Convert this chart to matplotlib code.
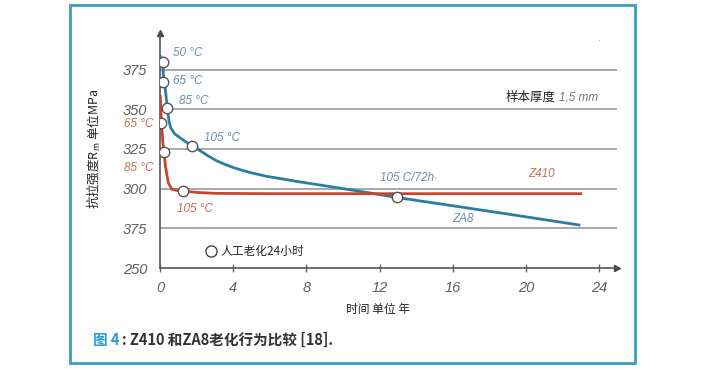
import matplotlib
matplotlib.use("Agg")
import matplotlib.pyplot as plt
from matplotlib.patches import Rectangle
from matplotlib.lines import Line2D

plt.rcParams['font.family'] = ['Liberation Sans', 'Noto Sans CJK SC', 'DejaVu Sans']

# ---- data ----
za8_x = [0.03, 0.15, 0.18, 0.25, 0.35, 0.4, 0.5, 0.6, 0.8, 1.1, 1.4, 1.8, 2.2, 2.6, 3.1, 3.5, 4.0,
         4.5, 4.9, 5.8, 7.6, 9.5, 11.3, 12.9, 16.0, 19.0, 22.9]
za8_y = [383, 379.6, 372, 367, 356, 350.5, 342, 338, 334.5, 332, 329.5, 327, 323.8, 320.8, 317.5, 315.5,
         313.3, 311.5, 310.2, 307.8, 304.3, 300.9, 297.6, 294.5, 289.2, 284.0, 277.1]
z410_x = [0.02, 0.04, 0.08, 0.15, 0.22, 0.3, 0.45, 0.65, 0.9, 1.22, 2.0, 3.1, 6.0, 10.0, 15.0, 23.0]
z410_y = [358, 350, 341.5, 330, 322.9, 314, 303.6, 299.6, 298.9, 298.5, 297.6, 297.0, 296.8, 296.8, 296.8, 296.8]

za8_mk_x = [0.15, 0.15, 0.4, 1.77, 12.93]
za8_mk_y = [379.6, 367, 350.5, 327, 294.5]
z410_mk_x = [0.05, 0.24, 1.24]
z410_mk_y = [341.4, 322.9, 298.7]

x_ticks = [0, 4, 8, 12, 16, 20, 24]
y_ticks = [250, 275, 300, 325, 350, 375]
y_tick_labels = ["250", "375", "300", "325", "350", "375"]

W, H = 709, 369
fig = plt.figure(figsize=(W / 100, H / 100), dpi=100)

def fx(px):
    return px / W

def fy(py):
    return 1 - py / H

# outer teal frame
fig.patches.append(Rectangle((fx(70), fy(363)), fx(635) - fx(70), fy(5) - fy(363),
                             transform=fig.transFigure, fill=False,
                             edgecolor='#3a9fbf', linewidth=2.0))

ax = fig.add_axes([fx(160), fy(268), fx(617) - fx(160), fy(33) - fy(268)])
ax.set_xlim(0, 24.98)
ax.set_ylim(250, 398)

blue = '#2a7ea2'
red = '#c8442c'
tick_col = '#606060'

for y in y_ticks[1:]:
    ax.axhline(y, color='#9a9a9a', lw=1.2, zorder=1)

ax.plot(za8_x, za8_y, color=blue, lw=2.0, zorder=3, solid_joinstyle='round')
ax.plot(z410_x, z410_y, color=red, lw=2.0, zorder=3, solid_joinstyle='round')
ax.plot(za8_mk_x, za8_mk_y, 'o', ms=7.5, mfc='white', mec='#555555', mew=1.0, zorder=5)
ax.plot(z410_mk_x, z410_mk_y, 'o', ms=7.5, mfc='white', mec='#555555', mew=1.0, zorder=5)

for s in ['top', 'right']:
    ax.spines[s].set_visible(False)
for s in ['left', 'bottom']:
    ax.spines[s].set_color('#555555')
    ax.spines[s].set_linewidth(1.2)

# arrows
ax.plot(1, 0, '>', color='#444444', ms=5, transform=ax.transAxes, clip_on=False)
ax.plot(0, 1, '^', color='#444444', ms=5, transform=ax.transAxes, clip_on=False)

ax.set_xticks(x_ticks)
ax.set_xticklabels([str(v) for v in x_ticks], fontstyle='italic', fontsize=10.5, color=tick_col)
ax.set_yticks(y_ticks)
ax.set_yticklabels(y_tick_labels, fontstyle='italic', fontsize=10.5, color=tick_col)
ax.tick_params(axis='x', direction='inout', length=6, width=1, color='#666666', pad=6)
ax.tick_params(axis='y', length=0, pad=9)

lab_blue = '#6a8ea8'
lab_red = '#c07058'
fs = 8.5
fig.text(fx(173), fy(53), "50 °C", color=lab_blue, fontsize=fs, style='italic', va='center')
fig.text(fx(173), fy(81), "65 °C", color=lab_blue, fontsize=fs, style='italic', va='center')
fig.text(fx(179), fy(101), "85 °C", color=lab_blue, fontsize=fs, style='italic', va='center')
fig.text(fx(204), fy(138), "105 °C", color=lab_blue, fontsize=fs, style='italic', va='center')
fig.text(fx(154), fy(124), "65 °C", color=lab_red, fontsize=fs, style='italic', va='center', ha='right')
fig.text(fx(154), fy(168), "85 °C", color=lab_red, fontsize=fs, style='italic', va='center', ha='right')
fig.text(fx(177), fy(209), "105 °C", color=lab_red, fontsize=fs, style='italic', va='center')
fig.text(fx(380), fy(178), "105 C/72h·", color=lab_blue, fontsize=fs, style='italic', va='center')
fig.text(fx(528), fy(174), "Z410", color=lab_red, fontsize=fs, style='italic', va='center')
fig.text(fx(452), fy(219), "ZA8", color=lab_blue, fontsize=fs, style='italic', va='center')

fig.text(fx(506), fy(97), "样本厚度", color='#222222', fontsize=9, va='center',
         family=['Noto Sans CJK SC', 'DejaVu Sans'])
fig.text(fx(559), fy(97), "1,5 mm", color='#777777', fontsize=8.5, style='italic', va='center')
fig.text(fx(599), fy(42), "·", color='#888888', fontsize=6, va='center', ha='center')

# legend
fig.add_artist(Line2D([fx(211)], [fy(251)], marker='o', ms=8, mfc='white', mec='#444444',
                      mew=1.0, transform=fig.transFigure))
fig.text(fx(220), fy(251), "人工老化24小时", color='#222222', fontsize=8.5, va='center',
         family=['Noto Sans CJK SC', 'DejaVu Sans'])

# axis labels
fig.text(fx(378), fy(309), "时间 单位 年", color='#222222', fontsize=8.5, va='center', ha='center',
         family=['Noto Sans CJK SC', 'DejaVu Sans'])
fig.text(fx(94), fy(149), "抗拉强度R$_{\\mathregular{m}}$ 单位MPa", color='#222222', fontsize=9,
         va='center', ha='center', rotation=90,
         family=['Noto Sans CJK SC', 'DejaVu Sans'])

# caption
fig.text(fx(93), fy(340), "图 4", color='#2a9bd0', fontsize=10.5, va='center', fontweight='bold',
         family=['Noto Sans CJK SC', 'DejaVu Sans'])
fig.text(fx(122), fy(340), ": Z410 和ZA8老化行为比较 [18].", color='#333333', fontsize=10.5,
         va='center', fontweight='bold', family=['Noto Sans CJK SC', 'DejaVu Sans'])

fig.savefig("out.png", dpi=100)
